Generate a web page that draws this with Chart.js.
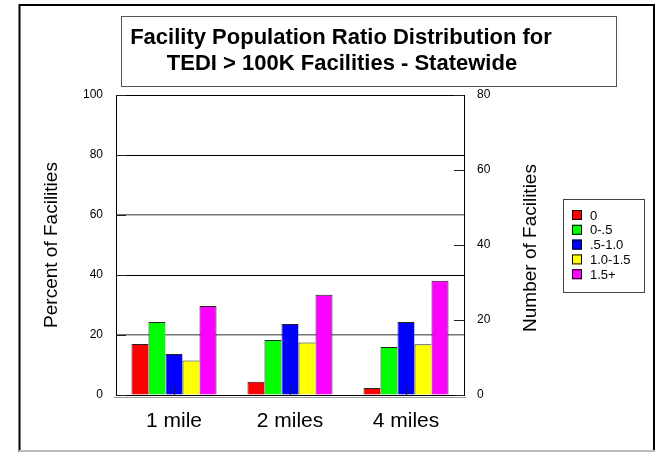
<!DOCTYPE html>
<html>
<head>
<meta charset="utf-8">
<script src="https://cdn.jsdelivr.net/npm/chart.js@4.4.0/dist/chart.umd.min.js"></script>
<style>
html, body { margin: 0; padding: 0; background: #fff; }
canvas { display: block; }
</style>
</head>
<body>
<canvas id="grafico" width="656" height="453"></canvas>
<script>
// Datos (porcentaje de instalaciones)
const distancias = ['1 mile', '2 miles', '4 miles'];
const rangos = ['0', '0-.5', '.5-1.0', '1.0-1.5', '1.5+'];
const rango0 = [17, 4.4, 2.3];
const rango0a05 = [24.3, 18.3, 16];
const rango05a10 = [13.7, 23.7, 24.3];
const rango10a15 = [11.5, 17.5, 16.9];
const rango15mas = [29.7, 33.4, 38.1];
const colores = ['#ff0000', '#00ff00', '#0000ff', '#ffff00', '#ff00ff'];
const titulo = ['Facility Population Ratio Distribution for', 'TEDI > 100K Facilities - Statewide'];

const fuente = '"Liberation Sans", Arial, sans-serif';
Chart.defaults.font.family = fuente;
Chart.defaults.color = '#000';

// Marco exterior, caja del titulo, titulo derecho y leyenda
const decoracion = {
    id: 'decoracion',
    beforeDraw(chart) {
        const ctx = chart.ctx;
        ctx.save();
        ctx.fillStyle = '#fff';
        ctx.fillRect(0, 0, chart.width, chart.height);
        ctx.restore();
    },
    afterDraw(chart) {
        const ctx = chart.ctx;
        const area = chart.chartArea;
        ctx.save();
        // marco
        ctx.strokeStyle = '#000';
        ctx.lineWidth = 2;
        ctx.beginPath();
        ctx.moveTo(19.5, 452);
        ctx.lineTo(19.5, 5);
        ctx.lineTo(654, 5);
        ctx.lineTo(654, 452);
        ctx.stroke();
        ctx.strokeStyle = '#bbb';
        ctx.beginPath();
        ctx.moveTo(19, 451);
        ctx.lineTo(655, 451);
        ctx.stroke();

        // titulo
        ctx.strokeStyle = '#555';
        ctx.lineWidth = 1;
        ctx.strokeRect(121.5, 16.5, 495, 70);
        ctx.fillStyle = '#000';
        ctx.font = 'bold 22px ' + fuente;
        ctx.textAlign = 'center';
        ctx.textBaseline = 'middle';
        ctx.fillText(titulo[0], 341, 38);
        ctx.fillText(titulo[1], 342, 64);

        // titulo eje derecho
        ctx.font = '19px ' + fuente;
        ctx.translate(area.right + 67, (area.top + area.bottom) / 2 + 3);
        ctx.rotate(-Math.PI / 2);
        ctx.fillText('Number of Facilities', 0, 0);
        ctx.restore();

        // marcas interiores de los ejes
        ctx.save();
        ctx.strokeStyle = '#222';
        ctx.lineWidth = 1;
        const y = chart.scales.y, y2 = chart.scales.y2, x = chart.scales.x;
        y.ticks.forEach(t => {
            const py = Math.round(y.getPixelForValue(t.value)) + 0.5;
            ctx.beginPath(); ctx.moveTo(area.left, py); ctx.lineTo(area.left + 10, py); ctx.stroke();
        });
        y2.ticks.forEach(t => {
            const py = Math.round(y2.getPixelForValue(t.value)) + 0.5;
            ctx.beginPath(); ctx.moveTo(area.right - 10, py); ctx.lineTo(area.right, py); ctx.stroke();
        });
        distancias.forEach((d, i) => {
            const px = Math.round(x.getPixelForValue(i)) + 0.5;
            ctx.beginPath(); ctx.moveTo(px, area.bottom); ctx.lineTo(px, area.bottom - 8); ctx.stroke();
        });
        // sombra del eje inferior
        ctx.strokeStyle = '#999';
        ctx.beginPath(); ctx.moveTo(area.left - 2, area.bottom + 2.5); ctx.lineTo(area.right + 2, area.bottom + 2.5); ctx.stroke();

        // leyenda
        const lx = area.right + 99, ly = (area.top + area.bottom) / 2 - 46;
        ctx.strokeStyle = '#444';
        ctx.strokeRect(lx + 0.5, ly + 0.5, 81, 93);
        ctx.font = '13px ' + fuente;
        ctx.textAlign = 'left';
        ctx.textBaseline = 'middle';
        chart.data.datasets.forEach((ds, i) => {
            const cy = ly + 16 + i * 14.8;
            ctx.fillStyle = ds.backgroundColor;
            ctx.fillRect(lx + 9, cy - 5, 10, 10);
            ctx.strokeStyle = '#000';
            ctx.strokeRect(lx + 9.5, cy - 4.5, 9, 9);
            ctx.fillStyle = '#000';
            ctx.fillText(ds.label, lx + 27, cy + 1);
        });
        ctx.restore();
    }
};

const series = [rango0, rango0a05, rango05a10, rango10a15, rango15mas];

const grafico = new Chart(document.getElementById('grafico').getContext('2d'), {
    type: 'bar',
    data: {
        labels: distancias,
        datasets: series.map((datos, i) => ({
            label: rangos[i],
            data: datos,
            backgroundColor: colores[i],
            borderColor: '#222',
            // una sola linea entre barras vecinas
            borderWidth: { top: 1, left: 1, right: i === series.length - 1 ? 1 : 0, bottom: 0 },
            borderSkipped: false,
            categoryPercentage: 0.733,
            barPercentage: 1,
            yAxisID: 'y'
        }))
    },
    options: {
        responsive: false,
        animation: false,
        layout: { padding: { left: 20, top: 95, right: 112, bottom: 19 } },
        plugins: {
            legend: { display: false },
            tooltip: { enabled: false },
            title: { display: false }
        },
        scales: {
            x: {
                grid: { display: false, drawTicks: false },
                border: { display: true, color: '#000', width: 1 },
                ticks: { font: { size: 21 }, padding: 14, color: '#000' },
                afterFit: s => { s.height = 39; }
            },
            y: {
                position: 'left',
                min: 0,
                max: 100,
                ticks: { stepSize: 20, font: { size: 12 }, padding: 13, color: '#000' },
                grid: {
                    drawTicks: false,
                    color: c => (c.tick && (c.tick.value === 20 || c.tick.value === 60)) ? '#777' : '#000',
                    lineWidth: c => (c.tick && (c.tick.value === 20 || c.tick.value === 60)) ? 1.5 : 1
                },
                border: { display: true, color: '#000', width: 1 },
                title: {
                    display: true,
                    text: 'Percent of Facilities',
                    font: { size: 19 },
                    color: '#000',
                    padding: { top: 20, bottom: 0 }
                },
                afterFit: s => { s.width = 96; }
            },
            y2: {
                position: 'right',
                min: 0,
                max: 80,
                ticks: { stepSize: 20, font: { size: 12 }, padding: 13, color: '#000' },
                grid: { drawOnChartArea: false, drawTicks: false },
                border: { display: true, color: '#000', width: 1 },
                afterFit: s => { s.width = 80; }
            }
        }
    },
    plugins: [decoracion]
});
</script>
</body>
</html>
